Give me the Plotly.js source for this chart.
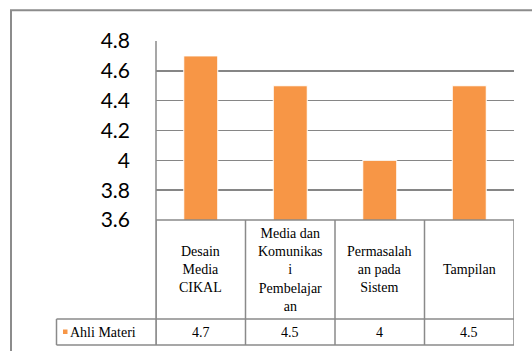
<!DOCTYPE html>
<html>
<head>
<meta charset="utf-8">
<script src="https://cdn.plot.ly/plotly-3.0.1.min.js"></script>
<style>
html,body{margin:0;padding:0;background:#fff;}
#chart{width:532px;height:351px;}
</style>
</head>
<body>
<div id="chart"></div>
<script>
// ---- data ----
const categoryLines = [
  ['Desain', 'Media', 'CIKAL'],
  ['Media dan', 'Komunikas', 'i', 'Pembelajar', 'an'],
  ['Permasalah', 'an pada', 'Sistem'],
  ['Tampilan']
];
const seriesName = 'Ahli Materi';
const values = [4.7, 4.5, 4, 4.5];
const yTickValues = [3.6, 3.8, 4.0, 4.2, 4.4, 4.6, 4.8];
const valueLabels = ['4.7', '4.5', '4', '4.5'];

// ---- layout helpers (pixel -> paper) ----
const W = 532, H = 351;
const L = 156, R = 514, T = 41, B = 220;
const px = x => (x - L) / (R - L);
const py = y => (B - y) / (B - T);

const barColor = '#F79646';
const lineColor = '#8a8a8a';
const serif = 'Liberation Serif';

const idx = categoryLines.map((_, i) => i);

const trace = {
  type: 'bar',
  x: idx,
  y: values,
  name: seriesName,
  width: 0.38,
  marker: {color: barColor, line: {color: '#ffffff', width: 1}},
  hoverinfo: 'skip'
};

const headerBottom = py(319);
const legendBottom = py(345);
const legendLeft = px(56.5);

const shapes = [];
const ln = (x0, y0, x1, y1, xref, w) => shapes.push({
  type: 'line', xref: xref || 'paper', yref: 'paper',
  x0, y0, x1, y1, line: {color: lineColor, width: w || 1.5}
});
// outer chart border
shapes.push({type: 'rect', xref: 'paper', yref: 'paper',
  x0: px(11), y0: py(363), x1: px(560), y1: py(10.3),
  line: {color: '#8c8c8c', width: 2}, fillcolor: 'rgba(0,0,0,0)', layer: 'below'});
// table top (axis baseline)
ln(0, 0, 1, 0);
// header bottom & legend bottom
ln(legendLeft, headerBottom, 1, headerBottom);
ln(legendLeft, legendBottom, 1, legendBottom);
// vertical column borders
for (let i = 0; i <= categoryLines.length; i++) {
  ln(i - 0.5, 0, i - 0.5, legendBottom, 'x');
}
// left axis line through plot
ln(0, 1, 0, legendBottom);
// legend cell left border
ln(legendLeft, headerBottom, legendLeft, legendBottom);
// legend key square
shapes.push({type: 'rect', xref: 'paper', yref: 'paper',
  x0: px(63), x1: px(67.5), y0: py(334), y1: py(329.5),
  line: {width: 0}, fillcolor: barColor});

const annotations = [];
categoryLines.forEach((lines, i) => {
  annotations.push({
    xref: 'x', yref: 'paper', x: i, y: py(269.5),
    text: lines.join('<br>'), showarrow: false,
    xanchor: 'center', yanchor: 'middle', align: 'center',
    font: {family: serif, size: 14, color: '#000'}
  });
  annotations.push({
    xref: 'x', yref: 'paper', x: i, y: py(332),
    text: valueLabels[i], showarrow: false,
    xanchor: 'center', yanchor: 'middle',
    font: {family: serif, size: 14, color: '#000'}
  });
});
annotations.push({
  xref: 'paper', yref: 'paper', x: px(68), y: py(332),
  text: seriesName, showarrow: false, xanchor: 'left', yanchor: 'middle',
  font: {family: serif, size: 14, color: '#000'}
});

const layout = {
  width: W, height: H,
  margin: {l: L, r: W - R, t: T, b: H - B, pad: 0},
  paper_bgcolor: '#ffffff', plot_bgcolor: '#ffffff',
  showlegend: false,
  bargap: 0.62,
  xaxis: {
    range: [-0.5, categoryLines.length - 0.5],
    showticklabels: false, showgrid: false, zeroline: false, showline: false,
    ticks: '', fixedrange: true
  },
  yaxis: {
    range: [3.6, 4.8],
    tickvals: yTickValues,
    ticktext: yTickValues.map(v => String(+v.toFixed(1))),
    showgrid: true, gridcolor: '#868686', gridwidth: 1.5,
    zeroline: false, showline: false, ticks: '',
    ticklabelstandoff: 25,
    tickfont: {family: 'Lato', size: 21, color: '#000'},
    fixedrange: true
  },
  shapes, annotations
};

Plotly.newPlot('chart', [trace], layout, {displayModeBar: false, staticPlot: true});
</script>
</body>
</html>
